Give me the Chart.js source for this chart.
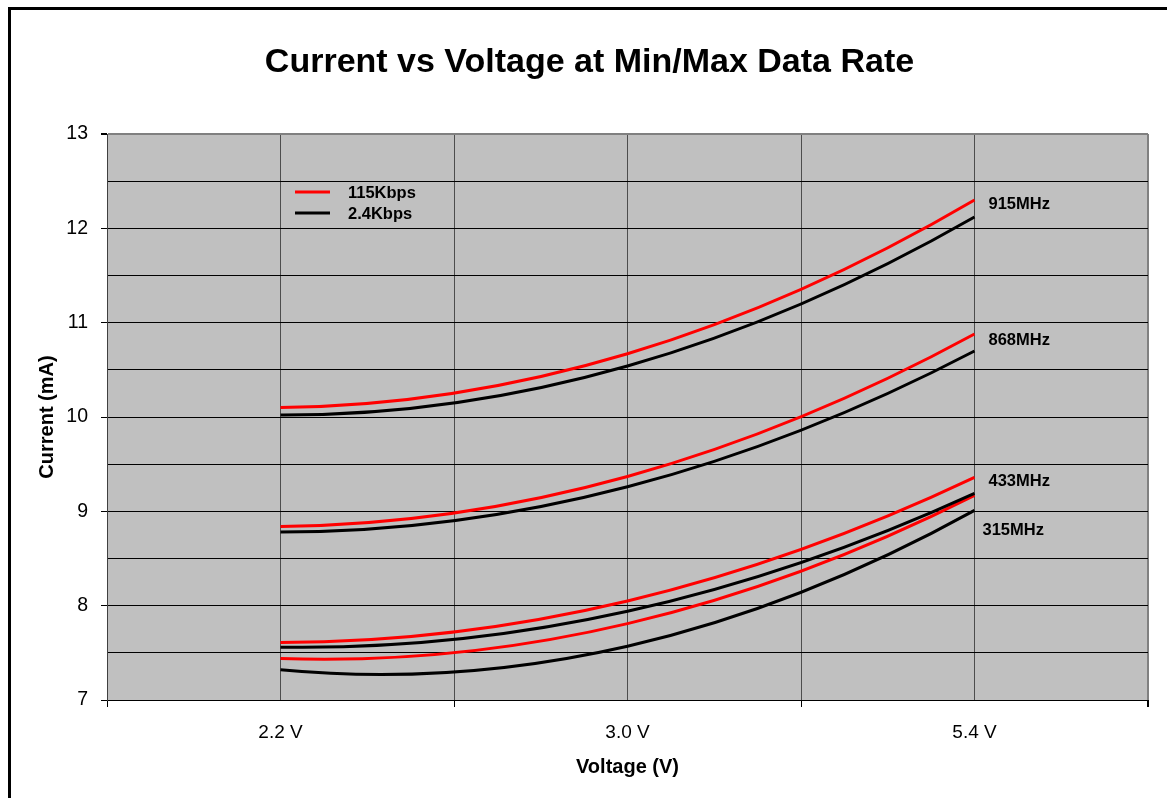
<!DOCTYPE html>
<html>
<head>
<meta charset="utf-8">
<title>Current vs Voltage at Min/Max Data Rate</title>
<script src="https://cdn.jsdelivr.net/npm/chart.js@4.4.1/dist/chart.umd.min.js"></script>
<style>
    html, body { margin: 0; padding: 0; background: #fff; }
    #wrap { width: 1167px; height: 798px; }
</style>
</head>
<body>
<div id="wrap"><canvas id="currentChart"></canvas></div>
<script>
// supply voltage categories (x axis)
const voltages = ['2.2 V', '3.0 V', '5.4 V'];

// current in mA, 115Kbps (red)
const fast915 = [10.10, 10.67, 12.30];
const fast868 = [8.84, 9.37, 10.88];
const fast433 = [7.61, 8.05, 9.36];
const fast315 = [7.44, 7.81, 9.17];

// current in mA, 2.4Kbps (black)
const slow915 = [10.02, 10.54, 12.12];
const slow868 = [8.78, 9.26, 10.70];
const slow433 = [7.56, 7.94, 9.19];
const slow315 = [7.32, 7.57, 9.01];

// frequency tags next to each curve pair (value on the y axis)
const bands = ['915MHz', '868MHz', '433MHz', '315MHz'];
const bandTagAt = [12.25, 10.81, 9.32, 8.80];

const rateNames = ['115Kbps', '2.4Kbps'];
const rateColors = ['#ff0000', '#000000'];

const FONT = "'Liberation Sans', Arial, sans-serif";

function toPoints(values) {
    return values.map((v, i) => ({ x: i, y: v }));
}

function makeLine(values, rate) {
    return {
        data: toPoints(values),
        borderColor: rateColors[rate],
        borderWidth: 3,
        pointRadius: 0,
        tension: 0.4,
        fill: false
    };
}

// Excel-like smoothing: a parabola through the three points of each series
const parabolaSmooth = {
    id: 'parabolaSmooth',
    beforeDatasetsDraw(chart) {
        chart.data.datasets.forEach((ds, i) => {
            const meta = chart.getDatasetMeta(i);
            const pts = meta.data;
            if (!meta.dataset || pts.length !== 3) return;
            meta.dataset.updateControlPoints(chart.chartArea, 'x');
            const [p0, p1, p2] = pts;
            const c = (p2.y - 2 * p1.y + p0.y) / 2;
            const b = p1.y - p0.y - c;
            const slopes = [b, b + 2 * c, b + 4 * c];
            pts.forEach((p, k) => {
                const step = (k < 2 ? pts[k + 1].x - p.x : p.x - pts[k - 1].x) / 3;
                p.cp1x = p.x - step;
                p.cp1y = p.y - slopes[k] / 3;
                p.cp2x = p.x + step;
                p.cp2y = p.y + slopes[k] / 3;
            });
        });
    }
};

const frame = {
    id: 'frame',
    beforeDraw(chart) {
        const { ctx, chartArea } = chart;
        ctx.save();
        ctx.fillStyle = '#ffffff';
        ctx.fillRect(0, 0, chart.width, chart.height);
        ctx.fillStyle = '#c0c0c0';
        ctx.fillRect(chartArea.left, chartArea.top, chartArea.right - chartArea.left, chartArea.bottom - chartArea.top);
        ctx.strokeStyle = '#000000';
        ctx.lineWidth = 3;
        ctx.strokeRect(9.5, 8.5, chart.width + 20, chart.height + 20);
        ctx.restore();
    }
};

const notes = {
    id: 'notes',
    afterDatasetsDraw(chart) {
        const { ctx } = chart;
        const xs = chart.scales.x;
        const ys = chart.scales.y;
        ctx.save();
        ctx.font = 'bold 16.5px ' + FONT;
        ctx.textBaseline = 'middle';
        ctx.fillStyle = '#000000';

        // legend, top left of the plot
        const lx = chart.chartArea.left + 188;
        rateNames.forEach((name, k) => {
            const ly = 192 + k * 21;
            ctx.strokeStyle = rateColors[k];
            ctx.lineWidth = 3;
            ctx.beginPath();
            ctx.moveTo(lx, ly);
            ctx.lineTo(lx + 35, ly);
            ctx.stroke();
            ctx.fillText(name, lx + 53, ly + 1);
        });

        // band tags at the right end of the curves
        const endX = xs.getPixelForValue(voltages.length - 1);
        bands.forEach((name, k) => {
            const off = k === 3 ? 8 : 14;
            ctx.fillText(name, endX + off, ys.getPixelForValue(bandTagAt[k]));
        });
        ctx.restore();
    }
};

const isWhole = v => Math.abs(v - Math.round(v)) < 1e-6;

new Chart(document.getElementById('currentChart'), {
    type: 'line',
    data: {
        datasets: [
            makeLine(fast915, 0), makeLine(slow915, 1),
            makeLine(fast868, 0), makeLine(slow868, 1),
            makeLine(fast433, 0), makeLine(slow433, 1),
            makeLine(fast315, 0), makeLine(slow315, 1)
        ]
    },
    options: {
        responsive: true,
        maintainAspectRatio: false,
        animation: false,
        layout: { padding: { left: 31, right: 19, top: 0, bottom: 0 } },
        plugins: {
            legend: { display: false },
            tooltip: { enabled: false },
            title: {
                display: true,
                text: 'Current vs Voltage at Min/Max Data Rate',
                color: '#000000',
                font: { family: FONT, size: 34, weight: 'bold', lineHeight: 1.2 },
                padding: { top: 42.6, bottom: 50.6 }
            }
        },
        scales: {
            x: {
                type: 'linear',
                min: -0.5,
                max: voltages.length - 0.5,
                afterFit: scale => { scale.height = 98; },
                afterBuildTicks: scale => {
                    const t = [];
                    for (let v = -0.5; v <= voltages.length - 0.5 + 1e-6; v += 0.5) t.push({ value: v });
                    scale.ticks = t;
                },
                ticks: {
                    autoSkip: false,
                    maxRotation: 0,
                    padding: 14,
                    color: '#000000',
                    font: { family: FONT, size: 19 },
                    callback: v => isWhole(v) ? voltages[Math.round(v)] : ''
                },
                grid: {
                    tickLength: 7,
                    color: c => c.tick && c.tick.value >= voltages.length - 0.5 - 1e-6 ? '#808080' : '#4d4d4d',
                    lineWidth: c => c.tick && c.tick.value >= voltages.length - 0.5 - 1e-6 ? 2 : 1,
                    tickColor: c => c.tick && isWhole(c.tick.value) ? 'rgba(0,0,0,0)' : '#000000'
                },
                border: { display: true, color: '#000000', width: 1 },
                title: {
                    display: true,
                    text: 'Voltage (V)',
                    color: '#000000',
                    font: { family: FONT, size: 20, weight: 'bold', lineHeight: 1.2 },
                    padding: { top: 0, bottom: 19 }
                }
            },
            y: {
                min: 7,
                max: 13,
                afterFit: scale => { scale.width = 76; },
                ticks: {
                    stepSize: 0.5,
                    autoSkip: false,
                    padding: 13,
                    color: '#000000',
                    font: { family: FONT, size: 19.5 },
                    callback: v => isWhole(v) ? v : ''
                },
                grid: {
                    tickLength: 6,
                    color: c => c.tick && c.tick.value >= 13 ? '#808080' : '#000000',
                    lineWidth: c => c.tick && c.tick.value >= 13 ? 2 : 1,
                    tickColor: c => c.tick && isWhole(c.tick.value) ? '#000000' : 'rgba(0,0,0,0)'
                },
                border: { display: true, color: '#404040', width: 1 },
                title: {
                    display: true,
                    text: 'Current (mA)',
                    color: '#000000',
                    font: { family: FONT, size: 20, weight: 'bold', lineHeight: 1.2 },
                    padding: { top: 4, bottom: 0 }
                }
            }
        }
    },
    plugins: [frame, parabolaSmooth, notes]
});
</script>
</body>
</html>
